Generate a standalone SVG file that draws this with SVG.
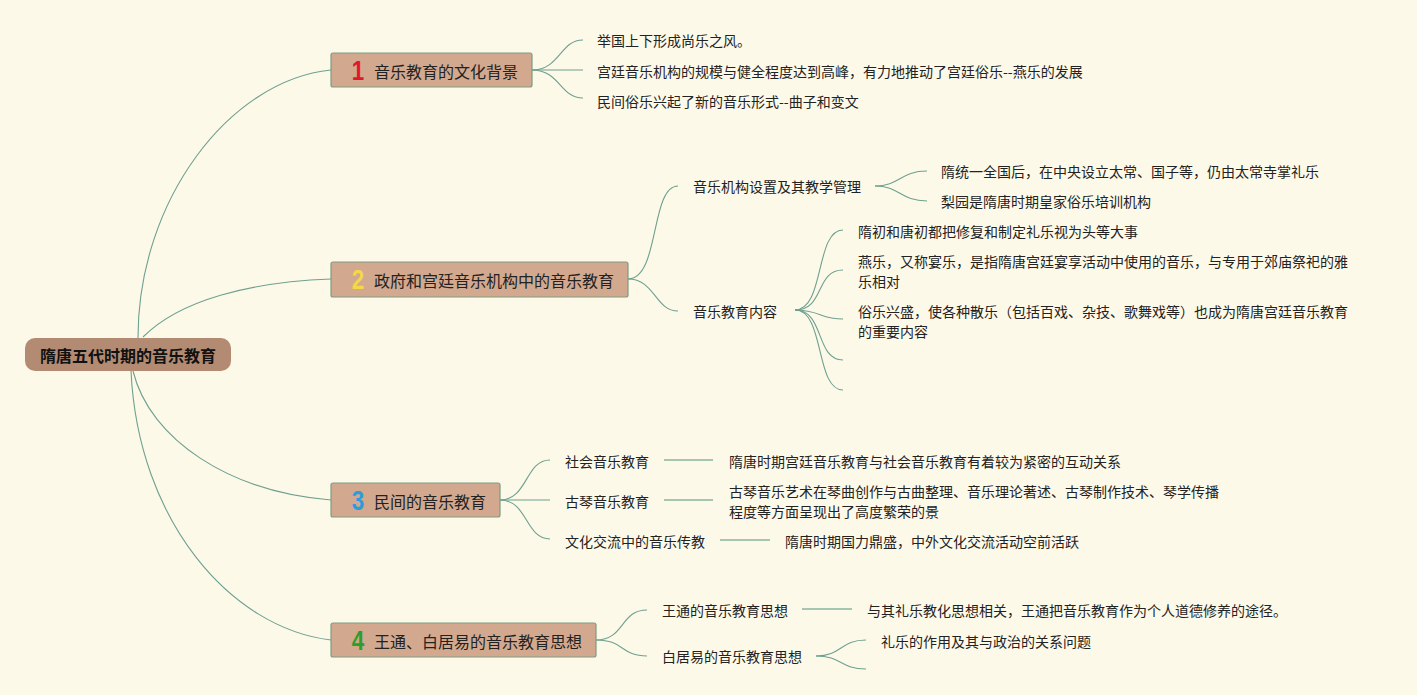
<svg xmlns="http://www.w3.org/2000/svg" width="1417" height="695" viewBox="0 0 1417 695">
<style>
text{font-family:"Noto Sans CJK SC","Noto Sans",sans-serif;fill:#222;dominant-baseline:central}
.t{font-size:14px}
.b{font-size:16px}
.r{font-size:16px;font-weight:bold;fill:#111}
.n{font-size:28px;font-weight:900;font-family:"Liberation Sans","Noto Sans",sans-serif}
.bx{fill:#D2A98E;stroke:#7E9C82;stroke-width:1.2}
.c{fill:none;stroke:#6FA08F;stroke-width:1.1}
.h{fill:none;stroke:#A6C6B2;stroke-width:2}
</style>
<rect width="1417" height="695" fill="#FDF9E9"/>
<g id="connectors">
<path class="c" d="M138 338 C138 200 230 80 331 70"/>
<path class="c" d="M143 337 C180 300 250 282 331 279"/>
<path class="c" d="M133 371 C150 440 230 492 331 500"/>
<path class="c" d="M131 371 C138 520 230 628 331 640"/>
<path class="c" d="M532 70 C560 70 560 40 583 40"/>
<path class="c" d="M532 70 L583 70"/>
<path class="c" d="M532 70 C560 70 560 98 583 98"/>
<path class="c" d="M628 279 C660 279 650 186 678 186"/>
<path class="c" d="M628 279 C655 279 655 311 678 311"/>
<path class="c" d="M875 186 C900 186 900 171 927 171"/>
<path class="c" d="M875 186 C900 186 900 201 927 201"/>
<path class="c" d="M795 310 C825 310 815 230 843 230"/>
<path class="c" d="M795 310 C825 310 815 270 843 270"/>
<path class="c" d="M795 310 C820 310 820 319 843 319"/>
<path class="c" d="M795 310 C825 310 815 360 843 360"/>
<path class="c" d="M795 310 C825 310 815 390 843 390"/>
<path class="c" d="M500 500 C528 500 525 460 550 460"/>
<path class="c" d="M500 500 L550 500"/>
<path class="c" d="M500 500 C528 500 525 539 550 539"/>
<path class="c" d="M596 640 C625 640 620 610 647 610"/>
<path class="c" d="M596 640 C625 640 620 656 647 656"/>
<path class="c" d="M816 656 C842 656 840 640 866 640"/>
<path class="c" d="M816 656 C842 656 840 669 866 669"/>
<path class="h" d="M664 460 L713 460"/>
<path class="h" d="M664 500 L713 500"/>
<path class="h" d="M720 540 L770 540"/>
<path class="h" d="M802 609 L852 609"/>
</g>
<g id="root">
<rect x="25" y="338" width="206" height="33" rx="10" fill="#B38B72"/>
<text class="r" x="128" y="355" text-anchor="middle">隋唐五代时期的音乐教育</text>
</g>
<g id="b1">
<rect class="bx" x="331" y="53" width="201" height="34" rx="2"/>
<text class="n" x="0" y="0" text-anchor="middle" transform="translate(358 70) scale(0.8 1)" style="fill:#E0182B">1</text>
<text class="b" x="374" y="71">音乐教育的文化背景</text>
</g>
<g id="b1c1"><text class="t" x="597" y="40">举国上下形成尚乐之风。</text></g>
<g id="b1c2"><text class="t" x="597" y="71">宫廷音乐机构的规模与健全程度达到高峰，有力地推动了宫廷俗乐--燕乐的发展</text></g>
<g id="b1c3"><text class="t" x="597" y="101">民间俗乐兴起了新的音乐形式--曲子和变文</text></g>
<g id="b2">
<rect class="bx" x="331" y="262" width="297" height="35" rx="2"/>
<text class="n" x="0" y="0" text-anchor="middle" transform="translate(358 279) scale(0.8 1)" style="fill:#F5D74A">2</text>
<text class="b" x="374" y="280">政府和宫廷音乐机构中的音乐教育</text>
</g>
<g id="b2a"><text class="t" x="693" y="186">音乐机构设置及其教学管理</text></g>
<g id="b2a1"><text class="t" x="941" y="171">隋统一全国后，在中央设立太常、国子等，仍由太常寺掌礼乐</text></g>
<g id="b2a2"><text class="t" x="941" y="201">梨园是隋唐时期皇家俗乐培训机构</text></g>
<g id="b2b"><text class="t" x="693" y="311">音乐教育内容</text></g>
<g id="b2b1"><text class="t" x="858" y="231">隋初和唐初都把修复和制定礼乐视为头等大事</text></g>
<g id="b2b2"><text class="t" x="858" y="261">燕乐，又称宴乐，是指隋唐宫廷宴享活动中使用的音乐，与专用于郊庙祭祀的雅</text><text class="t" x="858" y="281">乐相对</text></g>
<g id="b2b3"><text class="t" x="858" y="311">俗乐兴盛，使各种散乐（包括百戏、杂技、歌舞戏等）也成为隋唐宫廷音乐教育</text><text class="t" x="858" y="331">的重要内容</text></g>
<g id="b3">
<rect class="bx" x="331" y="483" width="169" height="34" rx="2"/>
<text class="n" x="0" y="0" text-anchor="middle" transform="translate(358 500) scale(0.8 1)" style="fill:#2E9BDB">3</text>
<text class="b" x="374" y="501">民间的音乐教育</text>
</g>
<g id="b3a"><text class="t" x="565" y="461">社会音乐教育</text></g>
<g id="b3a1"><text class="t" x="729" y="461">隋唐时期宫廷音乐教育与社会音乐教育有着较为紧密的互动关系</text></g>
<g id="b3b"><text class="t" x="565" y="501">古琴音乐教育</text></g>
<g id="b3b1"><text class="t" x="729" y="491">古琴音乐艺术在琴曲创作与古曲整理、音乐理论著述、古琴制作技术、琴学传播</text><text class="t" x="729" y="511">程度等方面呈现出了高度繁荣的景</text></g>
<g id="b3c"><text class="t" x="565" y="541">文化交流中的音乐传教</text></g>
<g id="b3c1"><text class="t" x="785" y="541">隋唐时期国力鼎盛，中外文化交流活动空前活跃</text></g>
<g id="b4">
<rect class="bx" x="331" y="623" width="265" height="34" rx="2"/>
<text class="n" x="0" y="0" text-anchor="middle" transform="translate(358 640) scale(0.8 1)" style="fill:#2AA02A">4</text>
<text class="b" x="374" y="641">王通、白居易的音乐教育思想</text>
</g>
<g id="b4a"><text class="t" x="662" y="610">王通的音乐教育思想</text></g>
<g id="b4a1"><text class="t" x="867" y="610">与其礼乐教化思想相关，王通把音乐教育作为个人道德修养的途径。</text></g>
<g id="b4b"><text class="t" x="662" y="656">白居易的音乐教育思想</text></g>
<g id="b4b1"><text class="t" x="881" y="641">礼乐的作用及其与政治的关系问题</text></g>
</svg>
